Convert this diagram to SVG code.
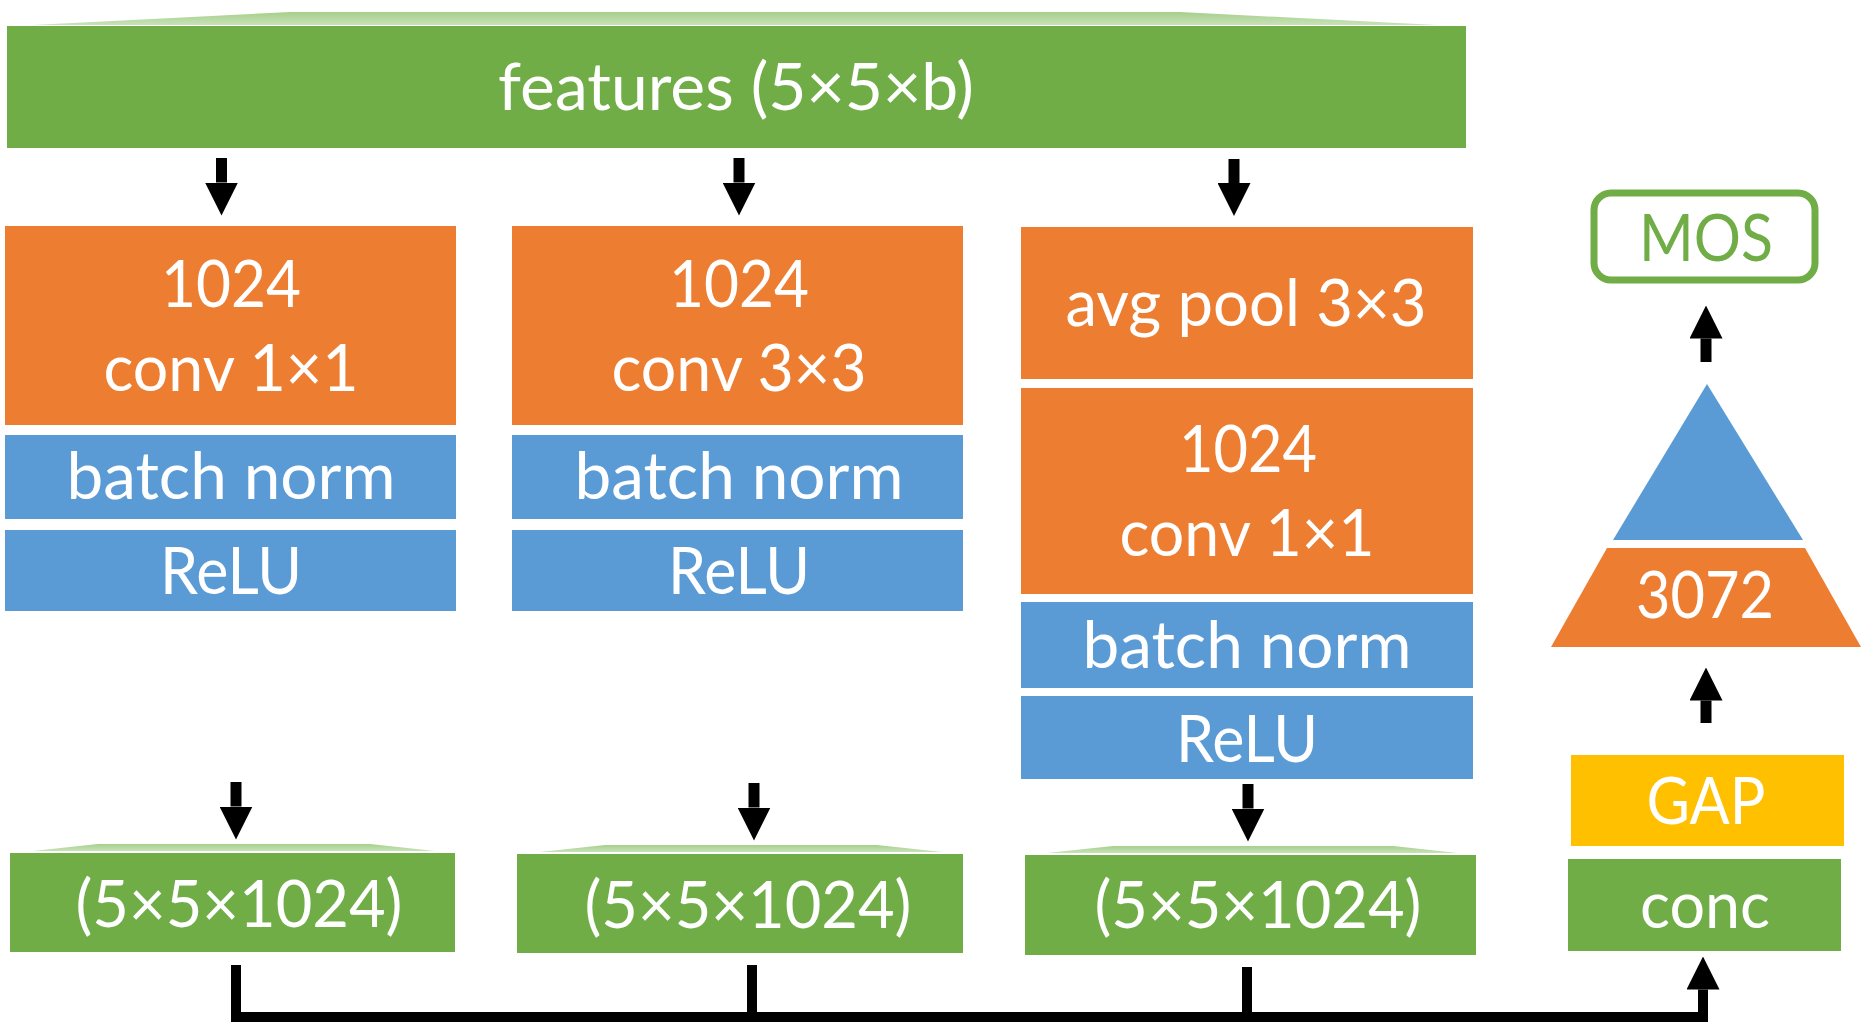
<svg xmlns="http://www.w3.org/2000/svg" width="1867" height="1032" viewBox="0 0 1867 1032">
<defs>
<linearGradient id="shade" x1="0" y1="0" x2="0" y2="1">
<stop offset="0" stop-color="#a6cf8b"/>
<stop offset="1" stop-color="#c8e2b8"/>
</linearGradient>
<marker id="head" viewBox="0 0 33 33" refX="0" refY="16.5" markerWidth="33" markerHeight="33" orient="auto" markerUnits="userSpaceOnUse">
<path d="M0,0 L33,16.5 L0,33 Z" fill="#000"/>
</marker>
<style>
.t{font-family:Lato,"Open Sans","Liberation Sans",sans-serif;font-size:65px;fill:#fff;text-anchor:middle}
.g{fill:#70ad47}.o{fill:#ed7d31}.b{fill:#5b9bd5}.y{fill:#ffc000}.sh{fill:url(#shade)}
.arr{stroke:#000;stroke-width:11;fill:none}
.bus{stroke:#000;stroke-width:10;fill:none;stroke-linejoin:miter}
</style>
</defs>
<rect width="1867" height="1032" fill="#fff"/>

<g id="features">
<polygon class="sh" points="290,12 1180,12 1437,25 33,25"/>
<rect class="g" x="7" y="26" width="1459" height="122"/>
<text class="t" x="736" y="110" textLength="476" lengthAdjust="spacingAndGlyphs">features (5×5×b)</text>
</g>

<g id="branch1">
<rect class="o" x="5" y="226" width="451" height="199"/>
<text class="t" x="231" y="307" textLength="140" lengthAdjust="spacingAndGlyphs">1024</text>
<text class="t" x="231" y="391" textLength="255" lengthAdjust="spacingAndGlyphs">conv 1×1</text>
<rect class="b" x="5" y="435" width="451" height="84"/>
<text class="t" x="231" y="499" textLength="329" lengthAdjust="spacingAndGlyphs">batch norm</text>
<rect class="b" x="5" y="530" width="451" height="81"/>
<text class="t" x="231" y="594" textLength="142" lengthAdjust="spacingAndGlyphs">ReLU</text>
</g>

<g id="branch2">
<rect class="o" x="512" y="226" width="451" height="199"/>
<text class="t" x="739" y="307" textLength="140" lengthAdjust="spacingAndGlyphs">1024</text>
<text class="t" x="739" y="391" textLength="255" lengthAdjust="spacingAndGlyphs">conv 3×3</text>
<rect class="b" x="512" y="435" width="451" height="84"/>
<text class="t" x="739" y="499" textLength="329" lengthAdjust="spacingAndGlyphs">batch norm</text>
<rect class="b" x="512" y="530" width="451" height="81"/>
<text class="t" x="739" y="594" textLength="142" lengthAdjust="spacingAndGlyphs">ReLU</text>
</g>

<g id="branch3">
<rect class="o" x="1021" y="227" width="452" height="152"/>
<text class="t" x="1246" y="326" textLength="361" lengthAdjust="spacingAndGlyphs">avg pool 3×3</text>
<rect class="o" x="1021" y="388" width="452" height="206"/>
<text class="t" x="1248" y="472" textLength="138" lengthAdjust="spacingAndGlyphs">1024</text>
<text class="t" x="1247" y="556" textLength="255" lengthAdjust="spacingAndGlyphs">conv 1×1</text>
<rect class="b" x="1021" y="602" width="452" height="86"/>
<text class="t" x="1247" y="668" textLength="329" lengthAdjust="spacingAndGlyphs">batch norm</text>
<rect class="b" x="1021" y="696" width="452" height="83"/>
<text class="t" x="1247" y="762" textLength="142" lengthAdjust="spacingAndGlyphs">ReLU</text>
</g>

<g id="out1">
<polygon class="sh" points="98,844 370,844 435,851 33,851"/>
<rect class="g" x="10" y="853" width="445" height="99"/>
<text class="t" x="239" y="927" textLength="327" lengthAdjust="spacingAndGlyphs">(5×5×1024)</text>
</g>
<g id="out2">
<polygon class="sh" points="605,845 877,845 942,852 540,852"/>
<rect class="g" x="517" y="854" width="446" height="99"/>
<text class="t" x="748" y="928" textLength="327" lengthAdjust="spacingAndGlyphs">(5×5×1024)</text>
</g>
<g id="out3">
<polygon class="sh" points="1113,846 1393,846 1458,853 1047,853"/>
<rect class="g" x="1025" y="855" width="451" height="100"/>
<text class="t" x="1258" y="928" textLength="327" lengthAdjust="spacingAndGlyphs">(5×5×1024)</text>
</g>

<g id="conc">
<rect class="g" x="1568" y="859" width="273" height="92"/>
<text class="t" x="1705" y="928" textLength="130" lengthAdjust="spacingAndGlyphs">conc</text>
</g>
<g id="gap">
<rect class="y" x="1571" y="755" width="273" height="91"/>
<text class="t" x="1706" y="824" textLength="119" lengthAdjust="spacingAndGlyphs">GAP</text>
</g>
<g id="fc">
<polygon class="o" points="1607,548 1805,548 1861,647 1551,647"/>
<text class="t" x="1705" y="618" textLength="138" lengthAdjust="spacingAndGlyphs">3072</text>
<polygon class="b" points="1707,384 1803,540 1613,540"/>
</g>
<g id="mos">
<rect x="1594" y="193" width="221" height="87" rx="17" fill="#fff" stroke="#70ad47" stroke-width="7"/>
<text class="t" x="1706" y="261" textLength="134" lengthAdjust="spacingAndGlyphs" style="fill:#70ad47">MOS</text>
</g>

<g id="connectors">
<line class="arr" x1="221.5" y1="158" x2="221.5" y2="182.5" marker-end="url(#head)"/>
<line class="arr" x1="739" y1="158" x2="739" y2="182.5" marker-end="url(#head)"/>
<line class="arr" x1="1234" y1="159" x2="1234" y2="183" marker-end="url(#head)"/>
<line class="arr" x1="236" y1="782" x2="236" y2="806.5" marker-end="url(#head)"/>
<line class="arr" x1="754" y1="783" x2="754" y2="807.5" marker-end="url(#head)"/>
<line class="arr" x1="1248" y1="784" x2="1248" y2="808.5" marker-end="url(#head)"/>
<line class="arr" x1="1706" y1="723" x2="1706" y2="700.5" marker-end="url(#head)"/>
<line class="arr" x1="1706" y1="362" x2="1706" y2="338.5" marker-end="url(#head)"/>
<path class="bus" d="M236,965 V1017 H1703 V989.5" marker-end="url(#head)"/>
<path class="bus" d="M752,965 V1017"/>
<path class="bus" d="M1247,967 V1017"/>
</g>
</svg>
